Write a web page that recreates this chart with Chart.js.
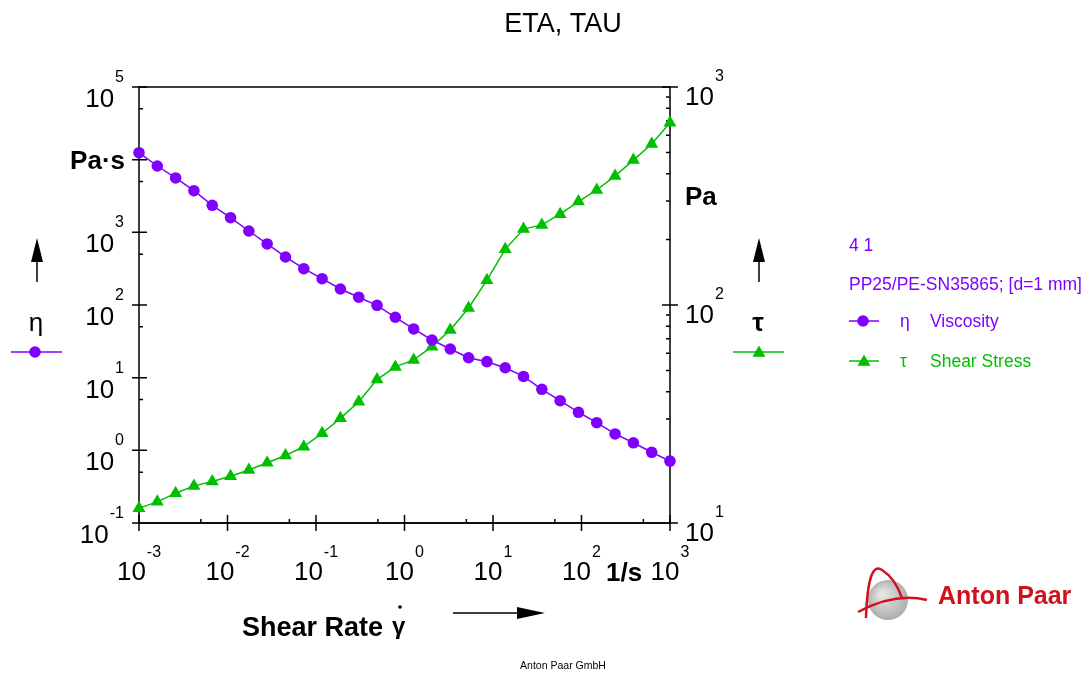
<!DOCTYPE html>
<html>
<head>
<meta charset="utf-8">
<script src="https://cdn.jsdelivr.net/npm/chart.js@4.4.1/dist/chart.umd.min.js"></script>
<style>
  html, body { margin: 0; padding: 0; background: #fff; }
  #wrap { width: 1091px; height: 675px; }
</style>
</head>
<body>
<div id="wrap"><canvas id="rheo" width="1091" height="675"></canvas></div>
<script>
// shear rate, 1/s (30 points, log ramp)
const shearRate = [0.001, 0.00161, 0.002593, 0.004175, 0.006723, 0.01083, 0.01743, 0.02807, 0.0452, 0.07279,
  0.1172, 0.1887, 0.3039, 0.4894, 0.788, 1.269, 2.043, 3.29, 5.298, 8.532,
  13.74, 22.12, 35.62, 57.36, 92.37, 148.7, 239.5, 385.7, 621.0, 1000];
// eta, Pa·s
const viscosity = [12470, 8180, 5600, 3740, 2355, 1590, 1043, 692, 458, 316,
  230, 166, 128, 99, 67.8, 46.8, 33.0, 24.8, 18.8, 16.6,
  13.7, 10.4, 6.92, 4.82, 3.34, 2.40, 1.68, 1.27, 0.94, 0.71];
// tau, Pa
const shearStress = [11.7, 12.5, 13.7, 14.8, 15.5, 16.4, 17.5, 18.9, 20.4, 22.4,
  25.8, 30.2, 36.0, 45.5, 52.0, 56.0, 64.4, 76.8, 96.9, 130,
  180, 223, 233, 261, 298, 337, 391, 462, 548, 686];

const xExps = [-3, -2, -1, 0, 1, 2, 3];
const etaExps = [5, 4, 3, 2, 1, 0, -1];
const etaLabelled = [5, 3, 2, 1, 0, -1];
const tauExps = [3, 2, 1];

const PURPLE = '#8000ff';
const GREEN = '#00bf00';
const FONT = 'Arial, "Liberation Sans", Helvetica, sans-serif';

function pow10(ctx, exp, x, y, mode) {
  // mode: 'center' | 'right' | 'left'; y = tick pixel
  ctx.save();
  ctx.fillStyle = '#000';
  ctx.textBaseline = 'alphabetic';
  ctx.textAlign = 'left';
  ctx.font = '26px ' + FONT;
  const w10 = ctx.measureText('10').width;
  ctx.font = '16px ' + FONT;
  const wE = ctx.measureText(String(exp)).width;
  let x0, b10, bE;
  if (mode === 'center') {
    x0 = x - (w10 + wE + 1) / 2;
    b10 = 580; bE = 557;
  } else if (mode === 'right') {
    x0 = x - (w10 + wE + 1);
    b10 = y + 20; bE = y - 5;
  } else {
    x0 = x;
    b10 = y + 18; bE = y - 6;
  }
  ctx.font = '26px ' + FONT;
  ctx.fillText('10', x0, b10);
  ctx.font = '16px ' + FONT;
  ctx.fillText(String(exp), x0 + w10 + 1, bE);
  ctx.restore();
}

function arrowUp(ctx, x, tip, bottom) {
  ctx.beginPath();
  ctx.moveTo(x, tip + 20); ctx.lineTo(x, bottom); ctx.stroke();
  ctx.beginPath();
  ctx.moveTo(x, tip); ctx.lineTo(x - 6, tip + 24); ctx.lineTo(x + 6, tip + 24); ctx.closePath(); ctx.fill();
}

function tri(ctx, x, y, r) {
  ctx.beginPath();
  ctx.moveTo(x, y - r);
  ctx.lineTo(x + r * 0.866, y + r / 2);
  ctx.lineTo(x - r * 0.866, y + r / 2);
  ctx.closePath(); ctx.fill();
}

const frame = {
  id: 'frame',
  beforeDatasetsDraw(chart) {
    const ctx = chart.ctx, a = chart.chartArea;
    const sx = chart.scales.x, sy = chart.scales.y, s2 = chart.scales.y2;
    ctx.save();
    ctx.strokeStyle = '#000';
    ctx.lineWidth = 1.5;
    ctx.strokeRect(a.left, a.top, a.right - a.left, a.bottom - a.top);
    ctx.beginPath();
    ctx.moveTo(a.left - 6, a.bottom); ctx.lineTo(a.right + 6, a.bottom);
    // x ticks
    xExps.forEach(e => {
      const px = sx.getPixelForValue(Math.pow(10, e));
      ctx.moveTo(px, a.bottom - 8); ctx.lineTo(px, a.bottom + 8);
      if (e < 3) {
        const pm = sx.getPixelForValue(5 * Math.pow(10, e));
        ctx.moveTo(pm, a.bottom); ctx.lineTo(pm, a.bottom - 4);
      }
    });
    // left ticks
    etaExps.forEach(e => {
      const py = sy.getPixelForValue(Math.pow(10, e));
      ctx.moveTo(a.left - 7, py); ctx.lineTo(a.left + 8, py);
      if (e < 5) {
        const pm = sy.getPixelForValue(5 * Math.pow(10, e));
        ctx.moveTo(a.left, pm); ctx.lineTo(a.left + 4, pm);
      }
    });
    // right ticks
    tauExps.forEach(e => {
      const py = s2.getPixelForValue(Math.pow(10, e));
      ctx.moveTo(a.right - 8, py); ctx.lineTo(a.right + 8, py);
      if (e < 3) {
        for (let m = 2; m <= 9; m++) {
          const pm = s2.getPixelForValue(m * Math.pow(10, e));
          ctx.moveTo(a.right, pm); ctx.lineTo(a.right - 4, pm);
        }
      }
    });
    ctx.stroke();
    ctx.restore();
  },
  afterDraw(chart) {
    const ctx = chart.ctx;
    const sx = chart.scales.x, sy = chart.scales.y, s2 = chart.scales.y2;
    ctx.save();
    xExps.forEach(e => pow10(ctx, e, sx.getPixelForValue(Math.pow(10, e)), 0, 'center'));
    etaLabelled.forEach(e => pow10(ctx, e, 124, sy.getPixelForValue(Math.pow(10, e)), 'right'));
    tauExps.forEach(e => pow10(ctx, e, 685, s2.getPixelForValue(Math.pow(10, e)), 'left'));

    ctx.fillStyle = '#000';
    ctx.textBaseline = 'alphabetic';
    ctx.font = '27px ' + FONT;
    ctx.textAlign = 'center';
    ctx.fillText('ETA, TAU', 563, 32);

    ctx.font = 'bold 26px ' + FONT;
    ctx.textAlign = 'right';
    ctx.fillText('Pa\u00b7s', 125, 169);
    ctx.textAlign = 'left';
    ctx.fillText('Pa', 685, 205);
    ctx.fillText('1/s', 606, 581);
    ctx.font = 'bold 27px ' + FONT;
    ctx.fillText('Shear Rate', 242, 636);

    // gamma dot
    ctx.font = 'bold 24px ' + FONT;
    ctx.fillText('\u03b3', 392, 634);
    ctx.beginPath(); ctx.arc(400, 607, 1.8, 0, Math.PI * 2); ctx.fill();

    // eta / tau axis symbols
    ctx.textAlign = 'center';
    ctx.font = '26px ' + FONT;
    ctx.fillText('\u03b7', 36, 331);
    ctx.font = 'bold 26px ' + FONT;
    ctx.fillText('\u03c4', 758, 331);

    // arrows
    ctx.strokeStyle = '#000';
    ctx.lineWidth = 1.5;
    arrowUp(ctx, 37, 238, 282);
    arrowUp(ctx, 759, 238, 282);
    ctx.beginPath(); ctx.moveTo(453, 613); ctx.lineTo(522, 613); ctx.stroke();
    ctx.beginPath(); ctx.moveTo(545, 613); ctx.lineTo(517, 607); ctx.lineTo(517, 619); ctx.closePath(); ctx.fill();

    // series keys beside the axes
    ctx.lineWidth = 1.5;
    ctx.strokeStyle = PURPLE; ctx.fillStyle = PURPLE;
    ctx.beginPath(); ctx.moveTo(11, 352); ctx.lineTo(62, 352); ctx.stroke();
    ctx.beginPath(); ctx.arc(35, 352, 5.8, 0, Math.PI * 2); ctx.fill();
    ctx.strokeStyle = GREEN; ctx.fillStyle = GREEN;
    ctx.beginPath(); ctx.moveTo(733, 352); ctx.lineTo(784, 352); ctx.stroke();
    tri(ctx, 759, 353, 7.5);

    // legend block
    ctx.textAlign = 'left';
    ctx.font = '17.5px ' + FONT;
    ctx.fillStyle = PURPLE;
    ctx.fillText('4 1', 849, 251);
    ctx.fillText('PP25/PE-SN35865; [d=1 mm]', 849, 290);
    ctx.strokeStyle = PURPLE;
    ctx.beginPath(); ctx.moveTo(849, 321); ctx.lineTo(879, 321); ctx.stroke();
    ctx.beginPath(); ctx.arc(863, 321, 5.8, 0, Math.PI * 2); ctx.fill();
    ctx.fillText('\u03b7', 900, 327);
    ctx.fillText('Viscosity', 930, 327);
    ctx.fillStyle = GREEN; ctx.strokeStyle = GREEN;
    ctx.beginPath(); ctx.moveTo(849, 361); ctx.lineTo(879, 361); ctx.stroke();
    tri(ctx, 864, 362, 7.5);
    ctx.fillText('\u03c4', 900, 367);
    ctx.fillText('Shear Stress', 930, 367);

    // footer
    ctx.fillStyle = '#000';
    ctx.font = '10.5px ' + FONT;
    ctx.textAlign = 'center';
    ctx.fillText('Anton Paar GmbH', 563, 669);

    // logo
    const g = ctx.createRadialGradient(882, 594, 2, 888, 600, 22);
    g.addColorStop(0, '#e6e6e6'); g.addColorStop(1, '#a9a9a9');
    ctx.fillStyle = g;
    ctx.beginPath(); ctx.arc(888, 600, 20, 0, Math.PI * 2); ctx.fill();
    ctx.strokeStyle = '#d2101c';
    ctx.lineWidth = 2.5;
    ctx.beginPath(); ctx.moveTo(866, 618); ctx.quadraticCurveTo(868, 560, 882, 570); ctx.quadraticCurveTo(895, 578, 902, 598); ctx.stroke();
    ctx.beginPath(); ctx.moveTo(858, 612); ctx.quadraticCurveTo(895, 592, 927, 600); ctx.stroke();
    ctx.fillStyle = '#d2101c';
    ctx.font = 'bold 25px ' + FONT;
    ctx.textAlign = 'left';
    ctx.fillText('Anton Paar', 938, 604);
    ctx.restore();
  }
};

const ctx = document.getElementById('rheo').getContext('2d');
const rheoChart = new Chart(ctx, {
  type: 'line',
  data: {
    datasets: [
      {
        label: 'Viscosity',
        data: shearRate.map((x, i) => ({ x: x, y: viscosity[i] })),
        yAxisID: 'y',
        borderColor: PURPLE,
        backgroundColor: PURPLE,
        borderWidth: 1.5,
        pointStyle: 'circle',
        pointRadius: 5.8,
        pointBorderWidth: 0,
        clip: false,
      },
      {
        label: 'Shear Stress',
        data: shearRate.map((x, i) => ({ x: x, y: shearStress[i] })),
        yAxisID: 'y2',
        borderColor: GREEN,
        backgroundColor: GREEN,
        borderWidth: 1.5,
        pointStyle: 'triangle',
        pointRadius: 7.5,
        pointBorderWidth: 0,
        clip: false,
      },
    ],
  },
  options: {
    responsive: false,
    animation: false,
    layout: { padding: { left: 139, top: 87, right: 421, bottom: 152 } },
    scales: {
      x: { type: 'logarithmic', min: 0.001, max: 1000, display: false },
      y: { type: 'logarithmic', min: 0.1, max: 100000, display: false },
      y2: { type: 'logarithmic', min: 10, max: 1000, display: false, position: 'right' },
    },
    plugins: {
      legend: { display: false },
      tooltip: { enabled: false },
    },
  },
  plugins: [frame],
});
</script>
</body>
</html>
